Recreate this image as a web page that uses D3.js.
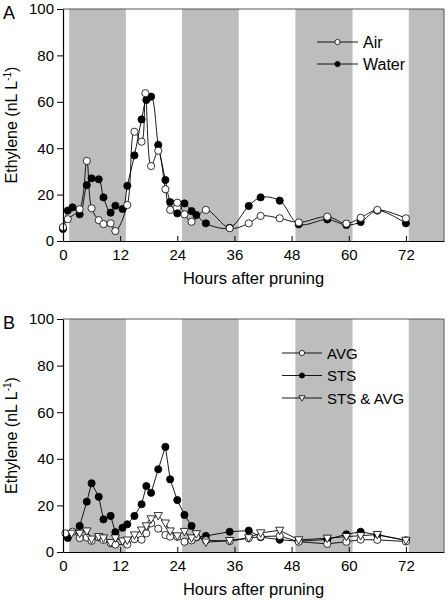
<!DOCTYPE html>
<html><head><meta charset="utf-8">
<script src="https://cdn.jsdelivr.net/npm/d3@7"></script>
<style>
body{margin:0;background:#fff;}
svg{display:block;font-family:"Liberation Sans",Arial,sans-serif;}
</style></head>
<body><svg id="c" width="448" height="600"></svg>
<script>
// ---- data ----
const xTicks = [0, 12, 24, 36, 48, 60, 72];
const yTicks = [0, 20, 40, 60, 80, 100];
const darkStarts = [1.3, 25, 48.8, 72.6];
const darkEnds   = [13.2, 36.9, 60.8, 80];

const waterHours = [0,1,2,3.5,5,6,7.5,8.5,10,11,12.5,13.5,15,16.5,17.5,18.5,20,21.5,22.5,24,25.5,27,28,30,35,39,41.5,45.5,49.5,55.5,59.5,62.5,66,72];
const waterVals  = [5.2,13.1,14.5,11.5,24.1,27,26.6,18.8,12.2,15.2,13.8,23.8,36.9,52.4,60.8,62.2,41.4,26.3,16.8,11.9,16.2,12.9,11.2,7.6,5.7,15.1,18.8,17.4,7.2,9.3,6.9,8.2,13.1,7.6];
const airHours = [0,1,3.5,5,6,7.5,8.5,10,11,13.5,15,16.5,17.3,18.5,20,21.5,22.5,24,25.5,27,30,35,39,41.5,45.5,49.5,55.5,59.5,62.5,66,72];
const airVals  = [6,9.4,13.7,34.5,14.1,9,7.3,7.6,4.3,15.5,47.1,42.8,63.7,32.3,38.9,22.3,13.4,16.5,11.5,8.3,13.4,5.5,7.6,10.8,9.8,8,10.5,7.5,10,13.4,9.8];

const stsHours = [1,3.5,5,6,7.5,8.5,10,11,12.5,13.5,15,16.5,17.5,18.5,20,21.5,22.5,24,25.5,27,28,30,35,39,41.5,45.5,49.5,55.5,59.5,62.5,66,72];
const stsVals  = [6,11.2,21.6,29.5,23.7,14,15.5,8.5,10.4,11.9,15.5,20.5,28.3,25.4,35.5,45.1,31.2,22.3,15.9,11.2,6.3,6.9,8.7,9.2,6.4,5.3,4.6,5.4,7.6,8.7,7.3,5];
const avgHours = [0.5,2,3.5,5,6,7.5,8.5,10,11,13.5,15,16.5,17.5,18.5,20,21.5,22.5,24,25.5,27,28,30,35,39,41.5,45.5,49.5,55.5,59.5,62.5,66,72];
const avgVals  = [8,8.7,6,6.2,4.8,6.3,5.2,3.8,3.2,3.2,5.5,5.3,8,12.3,10,7.3,6.6,6.5,4.4,5,6.5,5,4.7,5.9,6.6,6.9,4.4,3.5,4.4,5.3,5.2,4.5];
const bothHours = [1.8,3.5,5,6,7.5,8.5,10,11,12.5,13.5,15,16.5,17.5,18.5,20,21.5,22.5,24,25.5,27,28,30,35,39,41.5,45.5,49.5,55.5,59.5,62.5,66,72];
const bothVals  = [8,8,9,5.5,6.6,6,4,6,4.7,5.1,7.3,9.4,11.2,14.2,15.6,12.4,9,6.9,8.8,6,7.8,4.2,4.9,6.1,8.2,9.3,5.2,5.9,6.6,7,7.5,5];

const legendA = ["Air", "Water"];
const legendB = ["AVG", "STS", "STS & AVG"];

// ---- drawing ----
const svg = d3.select("#c");
const left = 63, right = 444;

function panel(cfg) {
  const x = d3.scaleLinear().domain([0, 80]).range([left, right]);
  const y = d3.scaleLinear().domain([0, 100]).range([cfg.bottom, cfg.top]);
  const g = svg.append("g");
  g.selectAll("rect.band").data(darkStarts.map((s, i) => [s, darkEnds[i]])).join("rect")
    .attr("x", d => x(d[0])).attr("width", d => x(d[1]) - x(d[0]))
    .attr("y", y(100)).attr("height", y(0) - y(100))
    .attr("fill", "#bdbdbd");
  g.append("path").attr("d", `M${x(0)},${y(100)}H${x(80)}V${y(0)}`)
    .attr("fill", "none").attr("stroke", "#555").attr("stroke-width", 1);

  cfg.series.forEach(s => {
    const pts = s.hours.map((h, i) => [h, s.vals[i]]);
    const line = d3.line().x(d => x(d[0])).y(d => y(d[1])).curve(cfg.curve);
    g.append("path").attr("d", line(pts)).attr("fill", "none")
      .attr("stroke", "#000").attr("stroke-width", 0.9);
  });
  cfg.series.forEach(s => {
    const pts = s.hours.map((h, i) => [h, s.vals[i]]);
    drawMarkers(g, pts.map(d => [x(d[0]), y(d[1])]), s.type, 3.6);
  });

  const ya = d3.axisLeft(y).tickValues(yTicks).tickSize(6).tickSizeOuter(0).tickPadding(3);
  const yg = g.append("g").attr("transform", `translate(${left},0)`).call(ya);
  const xa = d3.axisBottom(x).tickValues(xTicks).tickSize(-5).tickSizeOuter(0).tickPadding(8);
  const xg = g.append("g").attr("transform", `translate(0,${cfg.bottom})`).call(xa);
  [yg, xg].forEach(a => {
    a.select(".domain").attr("stroke", "#000").attr("stroke-width", 1.2);
    a.selectAll(".tick line").attr("stroke", "#000");
    a.selectAll("text").attr("font-size", 15).attr("fill", "#000")
      .attr("font-family", '"Liberation Sans",Arial,sans-serif');
  });
  xg.selectAll(".tick text").attr("dy", "0.71em").attr("y", 8);

  g.append("text").attr("x", (left + right) / 2).attr("y", cfg.bottom + 43)
    .attr("text-anchor", "middle").attr("font-size", 16.5).text("Hours after pruning");
  const yl = g.append("text").attr("transform", `translate(17,${(cfg.top + cfg.bottom) / 2}) rotate(-90)`)
    .attr("text-anchor", "middle").attr("font-size", 16);
  yl.append("tspan").text("Ethylene (nL L");
  yl.append("tspan").attr("font-size", 10).attr("dy", -6).text("-1");
  yl.append("tspan").attr("dy", 6).text(")");
  g.append("text").attr("x", 3).attr("y", cfg.top + 9.5).attr("font-size", 18).text(cfg.letter);

  cfg.legend.forEach((name, i) => {
    const ly = cfg.legY + i * cfg.legStep;
    g.append("line").attr("x1", cfg.legX1).attr("x2", cfg.legX2).attr("y1", ly).attr("y2", ly)
      .attr("stroke", "#000").attr("stroke-width", 0.9);
    drawMarkers(g, [[(cfg.legX1 + cfg.legX2) / 2, ly]], cfg.series[cfg.legendOrder[i]].type, 2.6);
    g.append("text").attr("x", cfg.legX2 + 5).attr("y", ly + 5.5).attr("font-size", cfg.legFont).text(name);
  });
}

function drawMarkers(g, pts, type, r) {
  if (type === "tri") {
    const s = r * 1.15;
    g.selectAll(null).data(pts).join("path")
      .attr("d", d => `M${d[0] - s},${d[1] - s * 0.75}L${d[0] + s},${d[1] - s * 0.75}L${d[0]},${d[1] + s * 1.05}Z`)
      .attr("fill", "#fff").attr("stroke", "#000").attr("stroke-width", 0.8);
  } else {
    g.selectAll(null).data(pts).join("circle")
      .attr("cx", d => d[0]).attr("cy", d => d[1]).attr("r", r)
      .attr("fill", type === "open" ? "#fff" : "#000")
      .attr("stroke", "#000").attr("stroke-width", 0.8);
  }
}

panel({
  top: 9, bottom: 241, letter: "A", curve: d3.curveCatmullRom.alpha(0.5),
  series: [
    {hours: waterHours, vals: waterVals, type: "filled"},
    {hours: airHours, vals: airVals, type: "open"}
  ],
  legend: legendA, legendOrder: [1, 0], legFont: 16,
  legX1: 317, legX2: 358, legY: 42, legStep: 22
});

panel({
  top: 319, bottom: 552, letter: "B", curve: d3.curveLinear,
  series: [
    {hours: stsHours, vals: stsVals, type: "filled"},
    {hours: avgHours, vals: avgVals, type: "open"},
    {hours: bothHours, vals: bothVals, type: "tri"}
  ],
  legend: legendB, legendOrder: [1, 0, 2], legFont: 15,
  legX1: 282, legX2: 322, legY: 353, legStep: 22.5
});
</script>
</body></html>
